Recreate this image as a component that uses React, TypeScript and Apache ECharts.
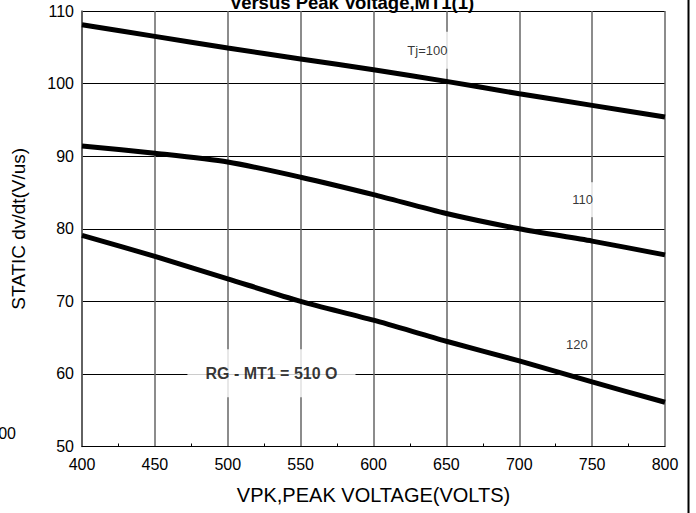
import React, { useEffect, useRef } from "react";
import * as echarts from "echarts";

const voltages = [400, 450, 500, 550, 600, 650, 700, 750, 800];
const tj100 = [108.1, 106.5, 104.9, 103.4, 101.9, 100.3, 98.6, 97.0, 95.4];
const tj110 = [91.4, 90.4, 89.2, 87.1, 84.7, 82.1, 80.0, 78.3, 76.4];
const tj120 = [79.1, 76.2, 73.1, 70.0, 67.4, 64.5, 61.8, 58.9, 56.1];
const curveLabels = [
  { text: "Tj=100", x: 637, y: 104.6, pad: [12, 2], bold: false, size: 13 },
  { text: "110", x: 743.5, y: 84.0, pad: [11, 3], bold: false, size: 13 },
  { text: "120", x: 739.5, y: 64.1, pad: [11, 3], bold: false, size: 13 },
  { text: "RG - MT1 = 510 O", x: 530, y: 60.1, pad: [16, 18], bold: true, size: 16 },
];
const titleText = "Versus Peak Voltage,MT1(1)";
const xName = "VPK,PEAK VOLTAGE(VOLTS)";
const yName = "STATIC dv/dt(V/us)";

const FONT = "Liberation Sans, Arial, sans-serif";

export default function App() {
  const ref = useRef<HTMLDivElement>(null);
  useEffect(() => {
    const chart = echarts.init(ref.current!, null, { renderer: "svg" });
    const line = (vals: number[]) => ({
      type: "line",
      data: voltages.map((v, i) => [v, vals[i]]),
      smooth: 0.25,
      showSymbol: false,
      symbol: "none",
      lineStyle: { color: "#000", width: 5 },
      z: 5,
    });
    chart.setOption({
      animation: false,
      backgroundColor: "#fff",
      title: {
        text: titleText,
        left: 347,
        textAlign: "center",
        top: -12,
        textStyle: { fontFamily: FONT, fontSize: 18.5, fontWeight: "bold", color: "#000" },
      },
      grid: { left: 82, right: 31, top: 11, bottom: 66.5 },
      xAxis: {
        type: "value",
        min: 400,
        max: 800,
        interval: 50,
        name: xName,
        nameLocation: "middle",
        nameGap: 38,
        nameTextStyle: { fontFamily: FONT, fontSize: 20, color: "#000" },
        axisLine: { show: true, lineStyle: { color: "#000", width: 1.2 } },
        axisTick: { show: false },
        minorTick: { show: true, splitNumber: 2, length: -3, lineStyle: { color: "#000" } },
        axisLabel: { fontFamily: FONT, fontSize: 16, color: "#000", margin: 10 },
        splitLine: { show: true, lineStyle: { color: "#666", width: 1.5 } },
      },
      yAxis: {
        type: "value",
        min: 50,
        max: 110,
        interval: 10,
        name: yName,
        nameLocation: "middle",
        nameGap: 54,
        nameTextStyle: { fontFamily: FONT, fontSize: 19, color: "#000" },
        axisLine: { show: true, lineStyle: { color: "#555", width: 1.5 } },
        axisTick: { show: false },
        axisLabel: { fontFamily: FONT, fontSize: 16, color: "#000", margin: 8 },
        splitLine: { show: true, lineStyle: { color: "#000", width: 1 } },
      },
      series: [
        line(tj100),
        line(tj110),
        line(tj120),
        {
          type: "scatter",
          symbolSize: 0,
          silent: true,
          z: 3,
          data: curveLabels.map((l) => ({
            value: [l.x, l.y],
            label: {
              show: true,
              position: "inside",
              formatter: l.text,
              fontFamily: FONT,
              fontSize: l.size,
              fontWeight: l.bold ? "bold" : "normal",
              color: "#000",
              backgroundColor: "#fff",
              padding: l.pad,
            },
          })),
        },
      ],
      graphic: [
        {
          type: "line",
          shape: { x1: 688.5, y1: 0, x2: 688.5, y2: 513 },
          style: { stroke: "#000", lineWidth: 2 },
        },
        {
          type: "text",
          x: 16,
          y: 433,
          style: {
            text: "300",
            fontFamily: FONT,
            fontSize: 16,
            fill: "#000",
            align: "right",
            verticalAlign: "middle",
          },
        },
      ],
    });
    return () => chart.dispose();
  }, []);
  return <div ref={ref} style={{ width: 696, height: 513, position: "absolute", left: 0, top: 0 }} />;
}
